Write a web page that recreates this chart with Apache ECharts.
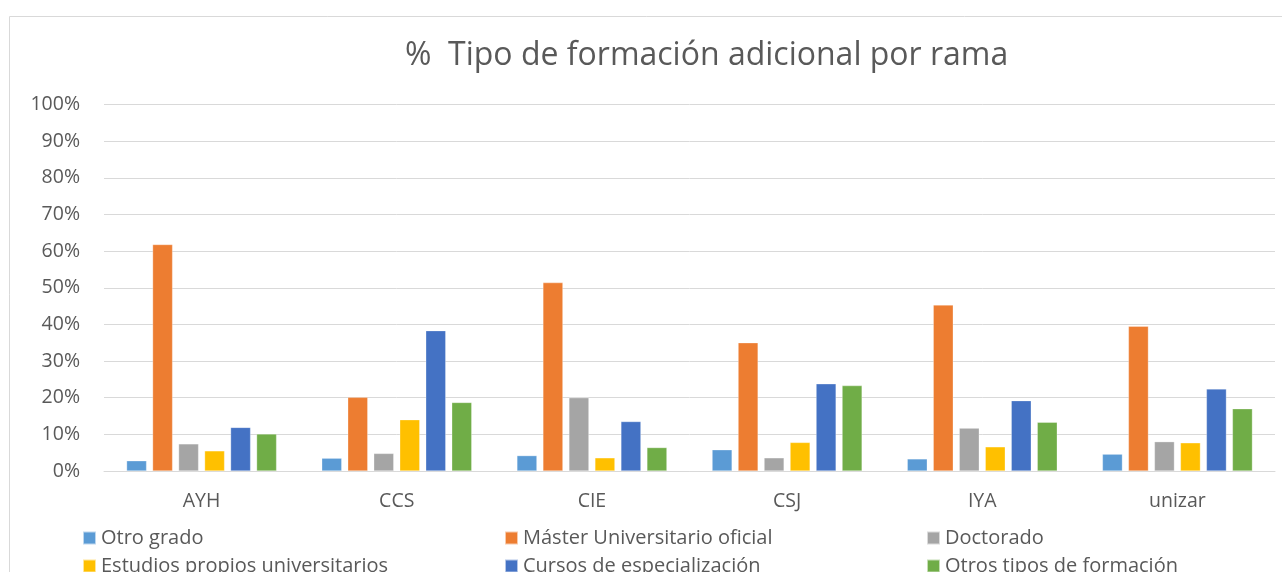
<!DOCTYPE html>
<html>
<head>
<meta charset="utf-8">
<script src="https://cdn.jsdelivr.net/npm/echarts@6/dist/echarts.min.js"></script>
<style>
  html, body { margin: 0; padding: 0; background: #fff; }
  #chart { width: 1282px; height: 572px; }
</style>
</head>
<body>
<div id="chart"></div>
<script>
// Branches of study
const categories = ['AYH', 'CCS', 'CIE', 'CSJ', 'IYA', 'unizar'];

// Share (%) of graduates with each type of additional training
const otroGrado        = [2.8, 3.5, 4.2, 5.8, 3.3, 4.6];
const masterOficial    = [61.8, 20.1, 51.4, 35.0, 45.3, 39.5];
const doctorado        = [7.4, 4.8, 20.0, 3.6, 11.7, 8.0];
const estudiosPropios  = [5.5, 14.0, 3.6, 7.8, 6.6, 7.7];
const cursosEspec      = [11.9, 38.3, 13.5, 23.8, 19.2, 22.4];
const otrosTipos       = [10.1, 18.7, 6.4, 23.3, 13.3, 17.0];

const seriesNames = [
  'Otro grado',
  'Máster Universitario oficial',
  'Doctorado',
  'Estudios propios universitarios',
  'Cursos de especialización',
  'Otros tipos de formación'
];
const seriesData = [otroGrado, masterOficial, doctorado, estudiosPropios, cursosEspec, otrosTipos];
const colors = ['#5B9BD5', '#ED7D31', '#A5A5A5', '#FFC000', '#4472C4', '#70AD47'];

const FONT = '"Open Sans", "Noto Sans", sans-serif';
const TEXT = '#595959';

const chart = echarts.init(document.getElementById('chart'), null, { renderer: 'canvas' });

// Legend laid out as a 3-column grid: one legend component per entry
const legendCols = [77, 499, 921];
const legendRows = [523, 551];
const legends = seriesNames.map((name, i) => ({
  left: legendCols[i % 3],
  top: legendRows[Math.floor(i / 3)],
  itemWidth: 13,
  itemHeight: 13,
  icon: 'rect',
  data: [name],
  selectedMode: false,
  textStyle: { fontFamily: FONT, fontSize: 20, color: TEXT }
}));

chart.setOption({
  animation: false,
  color: colors,
  title: {
    text: '%  Tipo de formación adicional por rama',
    left: 400,
    top: 35,
    textStyle: { fontFamily: FONT, fontWeight: 'normal', fontSize: 32, color: TEXT }
  },
  graphic: [{
    type: 'rect',
    shape: { x: 9.5, y: 16.5, width: 1290, height: 600 },
    style: { fill: 'none', stroke: '#d9d9d9', lineWidth: 1 },
    silent: true
  }],
  legend: legends,
  grid: { left: 104, right: 7, top: 104.5, height: 366.5, containLabel: false },
  xAxis: {
    type: 'category',
    data: categories,
    axisLine: { lineStyle: { color: '#d9d9d9', width: 1 } },
    axisTick: { show: false },
    axisLabel: { fontFamily: FONT, fontSize: 19.5, color: TEXT, margin: 20 }
  },
  yAxis: {
    type: 'value',
    min: 0,
    max: 100,
    interval: 10,
    axisLine: { show: false },
    axisTick: { show: false },
    axisLabel: { fontFamily: FONT, fontSize: 19.5, color: TEXT, margin: 24, formatter: '{value}%' },
    splitLine: { lineStyle: { color: '#d9d9d9', width: 1 } }
  },
  series: seriesNames.map((name, i) => ({
    name: name,
    type: 'bar',
    data: seriesData[i],
    barWidth: 20,
    barGap: '30%',
    itemStyle: { color: colors[i], borderColor: 'rgba(255,255,255,0.6)', borderWidth: 0.5 }
  }))
});
</script>
</body>
</html>
